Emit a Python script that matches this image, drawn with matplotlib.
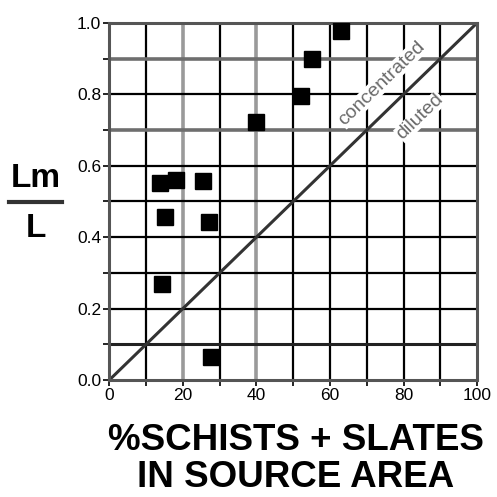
import matplotlib
matplotlib.use("Agg")
import matplotlib.pyplot as plt
import numpy as np

plt.rcParams['font.family'] = ['Liberation Sans', 'DejaVu Sans']

# data
schists_pct = [13.8, 18.2, 25.4, 15.2, 27.0, 14.4, 27.7, 40.0, 52.2, 55.2, 63.0]
lm_over_l = [0.551, 0.560, 0.557, 0.457, 0.443, 0.268, 0.065, 0.723, 0.794, 0.899, 0.978]
x_ticks = [0, 20, 40, 60, 80, 100]
y_ticks = [0.0, 0.2, 0.4, 0.6, 0.8, 1.0]
x_tick_labels = ['0', '20', '40', '60', '80', '100']
y_tick_labels = ['0.0', '0.2', '0.4', '0.6', '0.8', '1.0']
gray_x_grid = [20, 40]
gray_y_grid = [0.7, 0.9]

fig = plt.figure(figsize=(4.97, 4.97), dpi=100)
ax = fig.add_axes([0.22, 0.2354, 0.74, 0.7186])
ax.set_xlim(0, 100)
ax.set_ylim(0, 1.0)

# grid
for gx in range(10, 100, 10):
    if gx in gray_x_grid:
        ax.axvline(gx, color='#9a9a9a', lw=2.6, zorder=1)
    else:
        ax.axvline(gx, color='black', lw=1.6, zorder=1)
for gy in np.arange(1, 10) / 10:
    gy = round(gy, 1)
    if gy in gray_y_grid:
        ax.axhline(gy, color='#6e6e6e', lw=2.6, zorder=1)
    elif gy == 0.1:
        ax.axhline(gy, color='#222222', lw=2.2, zorder=1)
    else:
        ax.axhline(gy, color='black', lw=1.6, zorder=1)

# diagonal 1:1 line
ax.plot([0, 100], [0, 1], color='#333333', lw=2.2, zorder=2)

ax.plot(schists_pct, lm_over_l, 's', color='black', markersize=11, zorder=3)

ax.text(74, 0.83, 'concentrated', rotation=44, color='#6a6a6a', fontsize=14,
        ha='center', va='center', rotation_mode='anchor', zorder=4,
        bbox=dict(facecolor='white', edgecolor='none', pad=0.3))
ax.text(84.5, 0.737, 'diluted', rotation=44, color='#6a6a6a', fontsize=14,
        ha='center', va='center', rotation_mode='anchor', zorder=4,
        bbox=dict(facecolor='white', edgecolor='none', pad=0.3))

for s in ax.spines.values():
    s.set_color('#555555')
    s.set_linewidth(2.2)

ax.set_xticks(x_ticks)
ax.set_xticklabels(x_tick_labels)
ax.set_yticks(y_ticks)
ax.set_yticklabels(y_tick_labels)
ax.set_xticks(np.arange(0, 101, 10), minor=True)
ax.set_yticks(np.arange(0, 1.01, 0.1), minor=True)
ax.tick_params(axis='both', which='major', labelsize=12.5, length=4, width=1.2, color='black', pad=2)
ax.tick_params(axis='both', which='minor', length=4, width=1.2, color='black')

fig.text(0.595, 0.004, '%SCHISTS + SLATES\nIN SOURCE AREA', ha='center', va='bottom',
         fontsize=26.5, fontweight='bold', linespacing=1.08)

# y label as fraction Lm / L
fig.text(0.072, 0.61, 'Lm', ha='center', va='bottom', fontsize=24, fontweight='bold')
fig.add_artist(plt.Line2D([0.018, 0.125], [0.594, 0.594], color='#333333', lw=3,
                          transform=fig.transFigure))
fig.text(0.072, 0.572, 'L', ha='center', va='top', fontsize=24, fontweight='bold')

fig.savefig('out.png', dpi=100)
